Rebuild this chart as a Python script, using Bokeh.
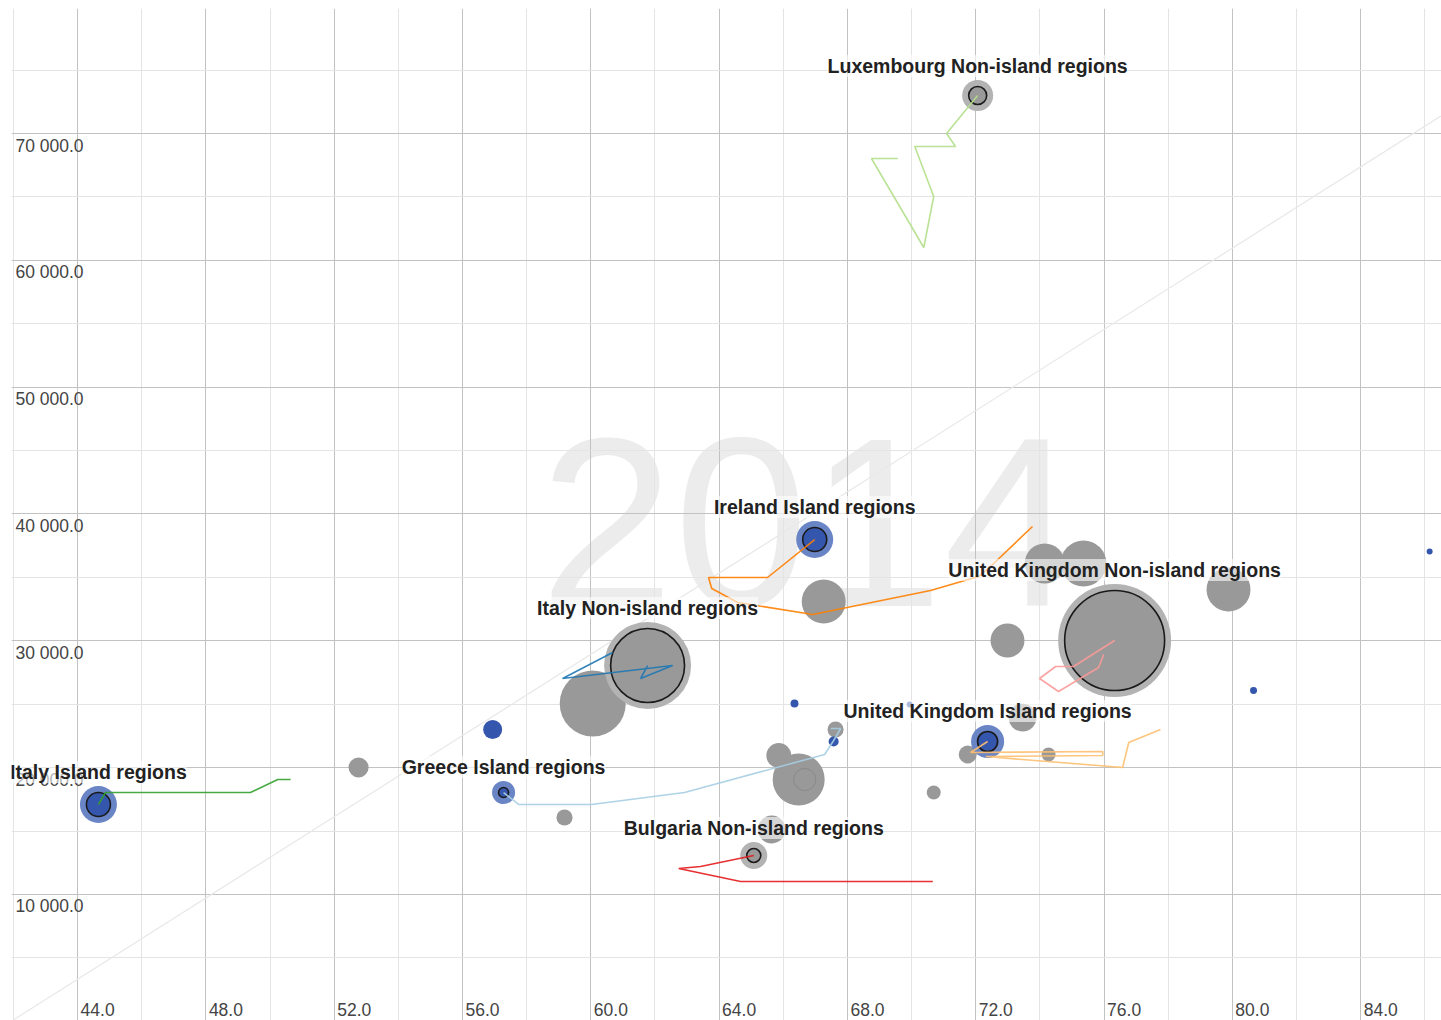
import numpy as np
from bokeh.plotting import figure
from bokeh.models import Range1d, Grid, FixedTicker, ColumnDataSource, LabelSet
from bokeh.core.properties import value
from bokeh.embed import file_html
from bokeh.resources import INLINE

# ---------------- data ----------------
year = "2014"

x_ticks = [44, 48, 52, 56, 60, 64, 68, 72, 76, 80, 84]
x_tick_labels = ["44.0", "48.0", "52.0", "56.0", "60.0", "64.0", "68.0", "72.0", "76.0", "80.0", "84.0"]
x_minor = [42, 46, 50, 54, 58, 62, 66, 70, 74, 78, 82, 86]
y_ticks = [10000, 20000, 30000, 40000, 50000, 60000, 70000]
y_tick_labels = ["10 000.0", "20 000.0", "30 000.0", "40 000.0", "50 000.0", "60 000.0", "70 000.0"]
y_major_grid = [0, 10000, 20000, 30000, 40000, 50000, 60000, 70000, 80000]
y_minor = [5000, 15000, 25000, 35000, 45000, 55000, 65000, 75000]

# reference diagonal
diag_x = [42.0, 86.5]
diag_y = [110, 71370]

# other (unselected) regions
other_x = [74.15, 75.36, 79.88, 72.99, 67.26, 60.06, 56.94, 52.76, 59.18, 73.46, 65.86,
           66.48, 67.63, 67.57, 66.35, 69.94, 80.66, 86.15, 70.69, 65.64, 71.75, 74.27]
other_y = [36096, 36096, 34046, 30025, 33100, 25057, 23007, 20011, 16069, 23950, 20957,
           19065, 23007, 22061, 25057, 24978, 26082, 37042, 18040, 15123, 21036, 21036]
other_pop = [11.1, 14.7, 13.4, 8.0, 13.4, 30.3, 2.5, 2.8, 1.8, 5.4, 4.3,
             18.8, 1.8, 0.7, 0.44, 0.25, 0.34, 0.25, 1.36, 5.4, 2.25, 1.36]
other_type = ["Non-island", "Non-island", "Non-island", "Non-island", "Non-island", "Non-island",
              "Island", "Non-island", "Non-island", "Non-island", "Non-island",
              "Non-island", "Non-island", "Island", "Island", "Island", "Island", "Island",
              "Non-island", "Non-island", "Non-island", "Non-island"]

# hovered ring
hover_x = [66.67]
hover_y = [19065]
hover_pop = [3.4]

# selected regions
sel_names = ["Luxembourg Non-island regions", "Ireland Island regions", "Italy Non-island regions",
             "United Kingdom Non-island regions", "United Kingdom Island regions",
             "Italy Island regions", "Greece Island regions", "Bulgaria Non-island regions"]
sel_x = [72.06, 66.98, 61.77, 76.33, 72.37, 44.65, 57.28, 65.08]
sel_y = [72995, 37988, 28053, 30025, 22061, 17094, 18040, 13073]
sel_pop = [2.25, 4.0, 38.0, 69.4, 2.8, 4.0, 0.7, 1.36]
sel_type = ["Non-island", "Island", "Non-island", "Non-island", "Island", "Island", "Island", "Non-island"]

# trails (history of selected regions)
lux_trail_x = [69.57, 68.75, 70.38, 70.69, 70.10, 71.37, 71.09, 72.06]
lux_trail_y = [68028, 68028, 61011, 65032, 68974, 68974, 69999, 72995]
irl_trail_x = [73.77, 72.46, 72.09, 70.59, 66.92, 64.58, 63.77, 63.67, 65.51, 66.98]
irl_trail_y = [39013, 35859, 35071, 33967, 32075, 33021, 34125, 34992, 34992, 37988]
ita_ni_trail_x = [60.68, 59.12, 62.55, 61.55, 61.77]
ita_ni_trail_y = [29078, 27028, 28053, 27028, 28053]
uk_ni_trail_x = [75.99, 75.83, 74.58, 73.99, 74.49, 75.05, 76.33]
uk_ni_trail_y = [28921, 27896, 26003, 27028, 27975, 27975, 30025]
uk_is_trail_x = [77.76, 76.77, 76.58, 72.31, 75.96, 75.96, 71.84, 72.37]
uk_is_trail_y = [23007, 21982, 20011, 20878, 20957, 21273, 21194, 22061]
ita_is_trail_x = [50.64, 50.24, 49.39, 44.87, 44.65]
ita_is_trail_y = [19065, 19065, 18040, 18040, 17094]
gre_is_trail_x = [67.48, 67.79, 67.57, 67.29, 62.92, 60.02, 57.75, 57.28]
gre_is_trail_y = [23086, 23086, 22140, 21036, 18040, 17094, 17094, 18040]
bgr_trail_x = [70.66, 64.67, 62.74, 63.42, 65.08]
bgr_trail_y = [11023, 11023, 12048, 12205, 13073]

# ---------------- styling ----------------
FONT = "Liberation Sans"
COL = {"Island": "#3556ad", "Non-island": "#999999"}
HALO = {"Island": "#6a85c6", "Non-island": "#b3b3b3"}
SCALE = 12.0  # diameter px per sqrt(pop)
X0, X1 = 41.94, 86.52
Y0, Y1 = 63, 79856

def diam(v):
    return SCALE * np.sqrt(np.asarray(v, dtype=float))

p = figure(width=1441, height=1020, output_backend="svg", toolbar_location=None,
           x_range=Range1d(X0, X1), y_range=Range1d(Y0, Y1),
           x_axis_location=None, y_axis_location=None,
           min_border_left=11, min_border_right=0, min_border_top=8, min_border_bottom=0)
p.outline_line_color = None
p.background_fill_color = "white"
p.border_fill_color = "white"

# grids
p.add_layout(Grid(dimension=0, ticker=FixedTicker(ticks=x_ticks, minor_ticks=x_minor),
                  grid_line_color="#c2c2c2", grid_line_width=1,
                  minor_grid_line_color="#e4e4e4", minor_grid_line_width=1))
p.add_layout(Grid(dimension=1, ticker=FixedTicker(ticks=y_major_grid, minor_ticks=y_minor),
                  grid_line_color="#c2c2c2", grid_line_width=1,
                  minor_grid_line_color="#e4e4e4", minor_grid_line_width=1))

# watermark year
p.text(x=[66.79], y=[39250], text=[year], text_font=value(FONT), text_font_size="242px",
       text_color="#ececec", text_align="center", text_baseline="middle", level="image")

# diagonal
p.line(diag_x, diag_y, line_color="#e8e8e8", line_width=1.2)

# tick labels (inside plot)
p.text(x=[42.0] * len(y_ticks), y=y_ticks, text=y_tick_labels, text_font=value(FONT),
       text_font_size="17.5px", text_color="#444444", text_align="left", text_baseline="top",
       x_offset=2, y_offset=2)
p.text(x=x_ticks, y=[Y0] * len(x_ticks), text=x_tick_labels, text_font=value(FONT),
       text_font_size="17.5px", text_color="#444444", text_align="left", text_baseline="bottom",
       x_offset=3, y_offset=-5)

# unselected bubbles
osrc = ColumnDataSource(dict(x=other_x, y=other_y, size=diam(other_pop),
                             color=[COL[t] for t in other_type]))
p.scatter("x", "y", size="size", fill_color="color", line_color=None, fill_alpha=1.0, source=osrc)

# hovered ring
p.scatter(hover_x, hover_y, size=diam(hover_pop), fill_color=None, line_color="#777777",
          line_alpha=0.5, line_width=1)

# selected bubbles: halo + outlined bubble
ssize = diam(sel_pop)
ssrc = ColumnDataSource(dict(x=sel_x, y=sel_y, size=ssize, halo=ssize + 13,
                             color=[COL[t] for t in sel_type],
                             halo_color=[HALO[t] for t in sel_type],
                             name=sel_names, off=(ssize + 13) / 2 + 3))
p.scatter("x", "y", size="halo", fill_color="halo_color", line_color=None, source=ssrc)
p.scatter("x", "y", size="size", fill_color="color", line_color="#1a1a1a", line_width=1.6, source=ssrc)

# trails
trails = [
    (lux_trail_x, lux_trail_y, "#b2df8a"),
    (irl_trail_x, irl_trail_y, "#ff7f00"),
    (ita_ni_trail_x, ita_ni_trail_y, "#1f78b4"),
    (uk_ni_trail_x, uk_ni_trail_y, "#fb9a99"),
    (uk_is_trail_x, uk_is_trail_y, "#fdbf6f"),
    (ita_is_trail_x, ita_is_trail_y, "#33a02c"),
    (gre_is_trail_x, gre_is_trail_y, "#a6cee3"),
    (bgr_trail_x, bgr_trail_y, "#e31a1c"),
]
for tx, ty, c in trails:
    p.line(tx, ty, line_color=c, line_width=1.6, line_alpha=0.9)

# labels of selected regions
labels = LabelSet(x="x", y="y", text="name", source=ssrc, y_offset="off",
                  text_align="center", text_baseline="bottom",
                  text_font=value(FONT), text_font_style="bold", text_font_size="19.5px",
                  text_color="#222222", background_fill_color="white", background_fill_alpha=0.6)
p.add_layout(labels)

open("out.html", "w").write(file_html(p, INLINE))
